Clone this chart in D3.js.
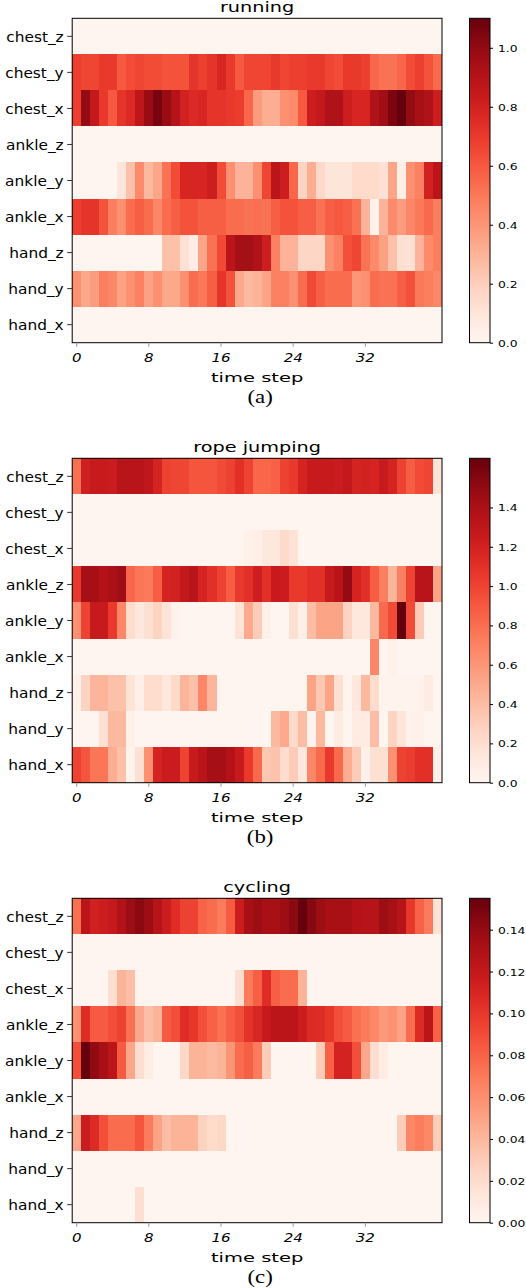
<!DOCTYPE html>
<html>
<head>
<meta charset="utf-8">
<script src="https://cdn.jsdelivr.net/npm/d3@7"></script>
<style>
  body { margin: 0; background: #fff; }
  text { font-family: 'DejaVu Sans', sans-serif; fill: #000; }
</style>
</head>
<body>
<div class="chart"></div>
<script>
const sensors = ['chest_z', 'chest_y', 'chest_x', 'ankle_z', 'ankle_y', 'ankle_x', 'hand_z', 'hand_y', 'hand_x'];
const timeTicks = [0, 8, 16, 24, 32];
const activities = ['running', 'rope jumping', 'cycling'];
const captions = ['(a)', '(b)', '(c)'];
const colorTicks = [
  [0, 0.2, 0.4, 0.6, 0.8, 1.0],
  [0, 0.2, 0.4, 0.6, 0.8, 1.0, 1.2, 1.4],
  [0, 0.02, 0.04, 0.06, 0.08, 0.10, 0.12, 0.14]
];
const colorFormats = ['.1f', '.1f', '.2f'];

// one row per sensor (same order as sensors), one value per time step
const running = [
  [0, 0, 0, 0, 0, 0, 0, 0, 0, 0, 0, 0, 0, 0, 0, 0, 0, 0, 0, 0, 0, 0, 0, 0, 0, 0, 0, 0, 0, 0, 0, 0, 0, 0, 0, 0, 0, 0, 0, 0, 0],
  [0.68, 0.66, 0.66, 0.70, 0.70, 0.60, 0.64, 0.66, 0.64, 0.64, 0.62, 0.62, 0.62, 0.72, 0.68, 0.72, 0.78, 0.70, 0.60, 0.66, 0.66, 0.66, 0.70, 0.66, 0.68, 0.68, 0.70, 0.70, 0.66, 0.64, 0.70, 0.70, 0.68, 0.56, 0.52, 0.52, 0.56, 0.64, 0.68, 0.62, 0.55],
  [0.68, 1.00, 0.85, 0.70, 0.60, 0.72, 0.76, 0.87, 0.98, 1.06, 0.98, 0.90, 0.80, 0.76, 0.78, 0.72, 0.72, 0.70, 0.69, 0.56, 0.38, 0.32, 0.32, 0.42, 0.44, 0.60, 0.82, 0.85, 0.92, 0.92, 0.82, 0.78, 0.78, 0.92, 0.96, 1.05, 1.10, 1.00, 0.94, 0.92, 0.82],
  [0, 0, 0, 0, 0, 0, 0, 0, 0, 0, 0, 0, 0, 0, 0, 0, 0, 0, 0, 0, 0, 0, 0, 0, 0, 0, 0, 0, 0, 0, 0, 0, 0, 0, 0, 0, 0, 0, 0, 0, 0],
  [0, 0, 0, 0, 0, 0.10, 0.25, 0.44, 0.28, 0.35, 0.52, 0.64, 0.78, 0.78, 0.78, 0.82, 0.64, 0.42, 0.30, 0.30, 0.42, 0.66, 0.88, 0.82, 0.56, 0.18, 0.32, 0.16, 0.10, 0.10, 0.10, 0.15, 0.15, 0.15, 0.12, 0.35, 0.04, 0.42, 0.47, 0.80, 0.88],
  [0.68, 0.72, 0.72, 0.62, 0.48, 0.42, 0.54, 0.58, 0.54, 0.45, 0.54, 0.58, 0.62, 0.62, 0.58, 0.58, 0.58, 0.54, 0.54, 0.52, 0.53, 0.52, 0.58, 0.62, 0.62, 0.58, 0.58, 0.52, 0.58, 0.60, 0.58, 0.52, 0.30, 0.02, 0.30, 0.44, 0.38, 0.45, 0.50, 0.55, 0.48],
  [0, 0, 0, 0, 0, 0, 0, 0, 0, 0, 0.25, 0.25, 0.12, 0.05, 0.35, 0.52, 0.65, 0.88, 0.95, 0.95, 0.92, 0.82, 0.47, 0.30, 0.30, 0.17, 0.17, 0.17, 0.42, 0.47, 0.63, 0.66, 0.52, 0.44, 0.36, 0.25, 0.13, 0.12, 0.30, 0.44, 0.48],
  [0.42, 0.34, 0.38, 0.48, 0.45, 0.36, 0.42, 0.47, 0.36, 0.42, 0.34, 0.34, 0.42, 0.54, 0.50, 0.58, 0.72, 0.62, 0.34, 0.28, 0.30, 0.35, 0.47, 0.47, 0.42, 0.54, 0.65, 0.58, 0.54, 0.54, 0.54, 0.40, 0.42, 0.54, 0.52, 0.52, 0.58, 0.63, 0.50, 0.48, 0.45],
  [0, 0, 0, 0, 0, 0, 0, 0, 0, 0, 0, 0, 0, 0, 0, 0, 0, 0, 0, 0, 0, 0, 0, 0, 0, 0, 0, 0, 0, 0, 0, 0, 0, 0, 0, 0, 0, 0, 0, 0, 0]
];

const ropeJumping = [
  [0.79, 1.21, 1.26, 1.26, 1.24, 1.34, 1.34, 1.34, 1.30, 1.18, 1.01, 0.99, 0.99, 0.92, 0.92, 0.92, 0.97, 1.01, 1.10, 1.00, 0.84, 0.84, 0.86, 1.01, 1.05, 1.18, 1.26, 1.26, 1.26, 1.24, 1.28, 1.18, 1.20, 1.18, 1.26, 1.18, 1.01, 0.88, 0.97, 0.99, 0.16],
  [0, 0, 0, 0, 0, 0, 0, 0, 0, 0, 0, 0, 0, 0, 0, 0, 0, 0, 0, 0, 0, 0, 0, 0, 0, 0, 0, 0, 0, 0, 0, 0, 0, 0, 0, 0, 0, 0, 0, 0, 0],
  [0, 0, 0, 0, 0, 0, 0, 0, 0, 0, 0, 0, 0, 0, 0, 0, 0, 0, 0, 0.04, 0.06, 0.13, 0.13, 0.23, 0.17, 0, 0, 0, 0, 0, 0, 0, 0, 0, 0, 0, 0, 0, 0, 0, 0],
  [1.05, 1.42, 1.42, 1.37, 1.40, 1.45, 0.84, 0.76, 0.74, 0.88, 1.18, 1.20, 1.28, 1.34, 1.18, 1.10, 1.01, 0.88, 1.05, 1.10, 1.22, 1.10, 1.26, 1.24, 1.05, 1.05, 1.10, 1.10, 1.26, 1.34, 1.49, 1.18, 1.10, 0.88, 0.71, 0.44, 0.71, 1.00, 1.34, 1.34, 0.53],
  [0.63, 1.00, 1.26, 1.26, 1.05, 0.68, 0.21, 0.13, 0.19, 0.27, 0.16, 0.03, 0, 0, 0, 0, 0, 0, 0.16, 0.50, 0.32, 0.05, 0, 0, 0.19, 0.06, 0.40, 0.53, 0.53, 0.53, 0.27, 0.13, 0.13, 0.42, 0.82, 0.97, 1.65, 0.97, 0.32, 0, 0],
  [0, 0, 0, 0, 0, 0, 0, 0, 0, 0, 0, 0, 0, 0, 0, 0, 0, 0, 0, 0, 0, 0, 0, 0, 0, 0, 0, 0, 0, 0, 0, 0, 0, 0.68, 0, 0.05, 0, 0, 0, 0, 0],
  [0.04, 0.27, 0.44, 0.44, 0.38, 0.38, 0.16, 0.06, 0.21, 0.21, 0.13, 0.23, 0.44, 0.38, 0.68, 0.44, 0, 0, 0, 0, 0, 0, 0, 0, 0, 0, 0.53, 0.34, 0.53, 0.19, 0.02, 0.13, 0.42, 0.21, 0.02, 0.02, 0.02, 0.02, 0.03, 0.10, 0],
  [0, 0, 0, 0.19, 0.42, 0.42, 0.05, 0, 0, 0, 0, 0, 0, 0, 0, 0, 0, 0, 0, 0, 0, 0, 0.42, 0.50, 0.23, 0.40, 0.02, 0.42, 0, 0.10, 0, 0.10, 0.10, 0.40, 0, 0.27, 0.15, 0.03, 0.05, 0, 0],
  [1.00, 0.92, 0.76, 0.76, 0.48, 0.38, 0.02, 0.19, 0.63, 1.18, 1.24, 1.24, 1.00, 1.26, 1.34, 1.42, 1.42, 1.37, 1.26, 1.05, 0.82, 0.34, 0.37, 0.21, 0.32, 0.13, 0.68, 0.82, 1.05, 0.82, 0.48, 0.32, 0.05, 0.19, 0.19, 0.63, 1.01, 1.03, 1.10, 1.10, 0.04]
];

const cycling = [
  [0.074, 0.124, 0.113, 0.116, 0.119, 0.128, 0.137, 0.143, 0.137, 0.126, 0.116, 0.105, 0.095, 0.095, 0.080, 0.076, 0.069, 0.084, 0.116, 0.133, 0.137, 0.133, 0.133, 0.137, 0.143, 0.155, 0.145, 0.137, 0.133, 0.133, 0.133, 0.128, 0.126, 0.126, 0.137, 0.133, 0.126, 0.100, 0.080, 0.069, 0.016],
  [0, 0, 0, 0, 0, 0, 0, 0, 0, 0, 0, 0, 0, 0, 0, 0, 0, 0, 0, 0, 0, 0, 0, 0, 0, 0, 0, 0, 0, 0, 0, 0, 0, 0, 0, 0, 0, 0, 0, 0, 0],
  [0, 0, 0, 0, 0.019, 0.042, 0.037, 0, 0, 0, 0, 0, 0, 0, 0, 0, 0, 0, 0.019, 0.069, 0.082, 0.105, 0.082, 0.076, 0.076, 0.042, 0, 0, 0, 0, 0, 0, 0, 0, 0, 0, 0, 0, 0, 0, 0],
  [0.059, 0.105, 0.084, 0.084, 0.089, 0.095, 0.074, 0.048, 0.037, 0.042, 0.084, 0.089, 0.105, 0.100, 0.089, 0.081, 0.074, 0.082, 0.089, 0.102, 0.109, 0.119, 0.124, 0.124, 0.124, 0.116, 0.107, 0.105, 0.100, 0.089, 0.084, 0.074, 0.069, 0.063, 0.055, 0.058, 0.050, 0.076, 0.107, 0.124, 0.081],
  [0.089, 0.155, 0.141, 0.133, 0.124, 0.084, 0.048, 0.019, 0.008, 0, 0, 0, 0.023, 0.042, 0.042, 0.039, 0.042, 0.057, 0.076, 0.082, 0.069, 0.029, 0, 0, 0, 0, 0, 0.029, 0.081, 0.112, 0.112, 0.089, 0.048, 0.019, 0.008, 0, 0, 0, 0, 0, 0],
  [0, 0, 0, 0, 0, 0, 0, 0, 0, 0, 0, 0, 0, 0, 0, 0, 0, 0, 0, 0, 0, 0, 0, 0, 0, 0, 0, 0, 0, 0, 0, 0, 0, 0, 0, 0, 0, 0, 0, 0, 0],
  [0.048, 0.117, 0.107, 0.089, 0.076, 0.076, 0.076, 0.086, 0.069, 0.050, 0.037, 0.042, 0.042, 0.042, 0.026, 0.021, 0.023, 0, 0, 0, 0, 0, 0, 0, 0, 0, 0, 0, 0, 0, 0, 0, 0, 0, 0, 0, 0.029, 0.063, 0.068, 0.063, 0.029],
  [0, 0, 0, 0, 0, 0, 0, 0, 0, 0, 0, 0, 0, 0, 0, 0, 0, 0, 0, 0, 0, 0, 0, 0, 0, 0, 0, 0, 0, 0, 0, 0, 0, 0, 0, 0, 0, 0, 0, 0, 0],
  [0, 0, 0, 0, 0, 0, 0, 0.019, 0, 0, 0, 0, 0, 0, 0, 0, 0, 0, 0, 0, 0, 0, 0, 0, 0, 0, 0, 0, 0, 0, 0, 0, 0, 0, 0, 0, 0, 0, 0, 0, 0]
];

const panels = [running, ropeJumping, cycling];

const config = {
  width: 526,
  height: 1288,
  panelStep: 440,
  top: 18.3,
  left: 72.2,
  right: 442,
  plotHeight: 324.4,
  barX: 469.5,
  barWidth: 20.5
};

// text in the figure is squashed vertically, so stretch it sideways
function stretch(sel, x, y, sx) {
  sel.attr('transform', `translate(${x},${y}) scale(${sx},1)`);
}

const svg = d3.select('.chart')
  .append('svg')
  .attr('width', config.width)
  .attr('height', config.height)
  .attr('viewBox', `0 0 ${config.width} ${config.height}`);

const defs = svg.append('defs');

panels.forEach((values, i) => {
  const steps = d3.range(values[0].length);
  const vmax = d3.max(values.flat());
  const H = config.plotHeight;

  const x = d3.scaleBand().domain(steps).range([config.left, config.right]);
  const y = d3.scaleBand().domain(sensors).range([0, H]);
  const color = d3.scaleSequential(d3.interpolateReds).domain([0, vmax]);

  const g = svg.append('g')
    .attr('transform', `translate(0,${config.top + i * config.panelStep})`);

  const cells = [];
  values.forEach((row, r) => row.forEach((v, c) => {
    cells.push({ sensor: sensors[r], step: steps[c], value: v });
  }));

  g.append('g')
    .selectAll('rect')
    .data(cells)
    .enter()
    .append('rect')
    .attr('x', d => x(d.step))
    .attr('y', d => y(d.sensor))
    .attr('width', x.bandwidth() + 0.4)
    .attr('height', y.bandwidth() + 0.4)
    .attr('fill', d => color(d.value))
    .attr('shape-rendering', 'crispEdges');

  g.append('rect')
    .attr('x', config.left)
    .attr('y', 0)
    .attr('width', config.right - config.left)
    .attr('height', H)
    .attr('fill', 'none')
    .attr('stroke', '#000')
    .attr('stroke-width', 1);

  // y axis
  const yAxis = g.append('g')
    .attr('transform', `translate(${config.left},0)`)
    .call(d3.axisLeft(y).tickSize(5));
  yAxis.select('.domain').remove();
  yAxis.selectAll('line').attr('stroke', '#333');
  yAxis.selectAll('text')
    .attr('x', null)
    .attr('dy', null)
    .attr('font-size', 13.5)
    .attr('font-family', 'DejaVu Sans')
    .each(function() { stretch(d3.select(this), -8.5, 5.2, 1.14); });

  // x axis
  const xAxis = g.append('g')
    .attr('transform', `translate(0,${H})`)
    .call(d3.axisBottom(x).tickValues(timeTicks).tickSize(4));
  xAxis.select('.domain').remove();
  xAxis.selectAll('line').attr('stroke', '#999');
  xAxis.selectAll('text')
    .attr('y', null)
    .attr('dy', null)
    .attr('font-size', 12)
    .attr('font-style', 'italic')
    .attr('font-family', 'DejaVu Sans')
    .each(function() { stretch(d3.select(this), 0, 19.5, 1.25); });

  const midX = (config.left + config.right) / 2;

  g.append('text')
    .attr('text-anchor', 'middle')
    .attr('font-size', 13.3)
    .call(stretch, midX, -6.3, 1.45)
    .text(activities[i]);

  g.append('text')
    .attr('text-anchor', 'middle')
    .attr('font-size', 13)
    .call(stretch, midX, H + 39, 1.5)
    .text('time step');

  g.append('text')
    .attr('text-anchor', 'middle')
    .attr('font-size', 19)
    .style('font-family', "'Liberation Serif', 'Times New Roman', serif")
    .call(stretch, midX + 3, H + 60, 1.2)
    .text(captions[i]);

  // colour bar
  const gradId = `bar-${i}`;
  const grad = defs.append('linearGradient')
    .attr('id', gradId)
    .attr('x1', 0).attr('y1', 1)
    .attr('x2', 0).attr('y2', 0);
  d3.range(0, 1.0001, 0.05).forEach(t => {
    grad.append('stop')
      .attr('offset', t)
      .attr('stop-color', d3.interpolateReds(t));
  });

  const barScale = d3.scaleLinear().domain([0, vmax]).range([H, 0]);

  g.append('rect')
    .attr('x', config.barX)
    .attr('y', 0)
    .attr('width', config.barWidth)
    .attr('height', H)
    .attr('fill', `url(#${gradId})`)
    .attr('stroke', '#000')
    .attr('stroke-width', 1);

  const barAxis = g.append('g')
    .attr('transform', `translate(${config.barX + config.barWidth},0)`)
    .call(d3.axisRight(barScale)
      .tickValues(colorTicks[i])
      .tickFormat(d3.format(colorFormats[i]))
      .tickSize(3));
  barAxis.select('.domain').remove();
  barAxis.selectAll('line').attr('stroke', '#000');
  barAxis.selectAll('text')
    .attr('x', null)
    .attr('dy', null)
    .attr('font-size', 9.5)
    .attr('font-family', 'DejaVu Sans')
    .each(function() { stretch(d3.select(this), 8, 3.5, 1.3); });
});
</script>
</body>
</html>
